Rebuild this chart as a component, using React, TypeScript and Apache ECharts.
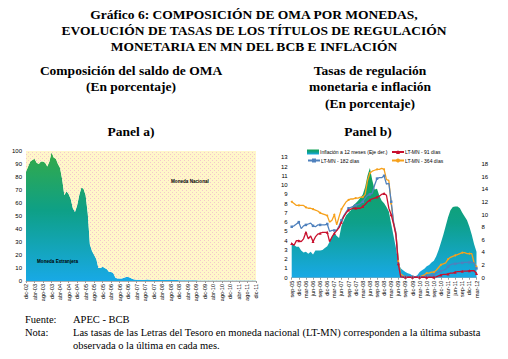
import React, { useEffect, useRef } from "react";
import * as echarts from "echarts";

const MONTHS = ["ene", "feb", "mar", "abr", "may", "jun", "jul", "ago", "sep", "oct", "nov", "dic"];
function monthLabels(year: number, month: number, count: number): string[] {
  const out: string[] = [];
  for (let i = 0; i < count; i++) {
    const m = (month + i) % 12;
    const y = year + Math.floor((month + i) / 12);
    out.push(MONTHS[m] + "-" + String(y % 100).padStart(2, "0"));
  }
  return out;
}

// Panel a) monthly, dic-02 .. dic-11
const catsA = monthLabels(2002, 11, 109);
const monedaExtranjera = [
  84, 88, 92, 93, 94, 91, 90, 92, 92, 91, 88, 92, 99,
  95, 94, 90, 87, 78, 66, 69, 67, 63, 56, 53, 58,
  66, 72, 71, 66, 52, 28, 23, 20, 17, 10, 10, 11,
  10, 9, 7, 7, 6, 2.5, 2, 2, 2, 2.5, 3, 3,
  2.5, 1.5, 1.2, 1, 1, 1, 0.8, 1, 1.2, 1, 0.8, 0.8,
  0.8, 0.7, 0.7, 0.7, 0.8, 0.8, 0.9, 1, 0.9, 0.8, 0.7, 0.6,
  0.6, 0.6, 0.5, 0.5, 0.5, 0.5, 0.5, 0.5, 0.4, 0.4, 0.4, 0.4,
  0.4, 0.4, 0.4, 0.4, 0.4, 0.3, 0.3, 0.3, 0.3, 0.3, 0.3, 0.3,
  0.3, 0.3, 0.3, 0.3, 0.3, 0.3, 0.3, 0.3, 0.3, 0.3, 0.3, 0.3,
];
const monedaNacional = monedaExtranjera.map((v) => +(100 - v).toFixed(2));

// Panel b) monthly, sep-05 .. mar-12
const catsB = monthLabels(2005, 8, 79);
const inflacion = [
  5.3, 5.2, 4.9, 4.9, 4.3, 4.0, 4.1, 3.8, 4.1, 3.7, 4.3, 4.3,
  4.3, 4.4, 4.7, 5.0, 5.7, 6.5, 7.1, 6.6, 6.3, 8.2, 9.1, 9.9,
  10.3, 10.7, 11.5, 11.8, 12.2, 12.7, 13.2, 14.4, 16.2, 17.4, 15.5, 14.0,
  14.1, 13.0, 12.2, 11.8, 11.2, 10.5, 8.5, 6.6, 4.7, 2.4, 1.5, 1.2,
  0.9, 0.7, 0.6, 0.3, 0.2, 0.4, 0.9, 1.2, 1.4, 1.8, 2.0, 2.4,
  2.7, 3.4, 4.4, 5.6, 6.8, 8.2, 9.6, 10.7, 11.2, 11.3, 11.3, 11.0,
  10.3, 9.7, 9.1, 8.1, 6.8, 5.3, 4.1,
];
const lt364 = [
  8.2, 8.0, 7.8, 7.8, 7.8, 7.8, 7.6, 7.5, 7.5, 7.4, 7.3, 7.2,
  7.0, 6.9, 6.8, 6.7, 6.0, 6.2, 6.8, 5.7, 6.6, 7.4, 7.8, 8.2,
  8.4, 8.5, 8.5, 8.6, 8.6, 8.7, 8.7, 9.0, 10.5, 11.3, 11.5, 11.6,
  11.7, 11.7, 11.8, 11.7, 10.6, 10.5, 8.0, 5.9, 4.8, 1.8, 0.4, 0.2,
  0.1, 0.1, 0.1, 0.1, 0.1, 0.1, 0.1, 0.2, 0.3, 0.5, 0.5, 0.6,
  0.6, 0.8, 1.1, 1.4, 1.5, 1.6, 2.0, 2.2, 2.3, 2.4, 2.5, 2.6,
  2.7, 2.7, 2.6, 2.6, 2.6, 1.6, 1.2,
];
const lt182 = [
  5.5, 5.6, 5.8, 6.0, 5.3, 5.6, 5.7, 5.8, 5.9, 5.6, 5.5, 5.7,
  5.7, 5.7, 5.7, 5.8, 5.0, 5.1, 5.1, 5.1, 5.6, 6.2, 6.7, 7.1,
  7.5, 7.6, 7.7, 7.8, 7.9, 8.0, 8.2, 8.6, 8.9, 9.0, 9.1, 10.0,
  10.7, 10.8, 10.8, 11.0, 10.1, 10.2, 8.2, 6.0, 4.8, 1.5, 0.2, 0.1,
  0.1, 0.1, 0.1, 0.1, 0.1, 0.1, 0.1, 0.1, 0.1, 0.2, 0.2, 0.3,
  0.3, 0.5, 0.6, 0.7, 0.8, 0.9, 1.2, 1.4, 1.5, 1.5, 1.55, 1.6,
  1.6, 1.65, 1.65, 1.65, 1.65, 1.6, 1.0,
];
const lt91 = [
  3.7, 3.5, 4.0, 4.0, 3.9, 4.2, 4.9, 4.2, 4.5, 3.9, 4.4, 4.7,
  4.8, 4.9, 4.9, 4.9, 3.9, 4.4, 4.8, 5.1, 5.4, 6.0, 6.6, 7.0,
  7.3, 7.4, 7.5, 7.5, 7.5, 7.5, 7.7, 7.9, 8.2, 8.4, 8.5, 8.6,
  8.7, 8.8, 9.0, 9.1, 8.9, 7.5, 6.8, 5.8, 4.6, 1.5, 0.1, 0.05,
  0.05, 0.05, 0.05, 0.05, 0.05, 0.05, 0.05, 0.05, 0.05, 0.05, 0.05, 0.05,
  0.05, 0.1, 0.2, 0.3, 0.35, 0.35, 0.4, 0.5, 0.5, 0.6, 0.65, 0.65,
  0.7, 0.7, 0.7, 0.75, 0.75, 0.75, 0.45,
];

const NAME_INF = "Inflación a 12 meses (Eje der.)";
const NAME_91 = "LT-MN - 91 días";
const NAME_182 = "LT-MN - 182 días";
const NAME_364 = "LT-MN - 364 días";

const SANS = "Liberation Sans";
const SERIF = "Liberation Serif";

function grad(stops: [number, string][]) {
  return new echarts.graphic.LinearGradient(0, 0, 0, 1, stops.map(([offset, color]) => ({ offset, color })));
}

function dotPattern(bg: string | null, dot: string) {
  const c = document.createElement("canvas");
  c.width = 4;
  c.height = 4;
  const ctx = c.getContext("2d");
  if (ctx) {
    if (bg) {
      ctx.fillStyle = bg;
      ctx.fillRect(0, 0, 4, 4);
    }
    ctx.fillStyle = dot;
    ctx.fillRect(0, 0, 1, 1);
    ctx.fillRect(2, 2, 1, 1);
  }
  return { image: c, repeat: "repeat" };
}

export default function App() {
  const ref = useRef<HTMLDivElement>(null);
  useEffect(() => {
    if (!ref.current) return;
    const chart = echarts.init(ref.current, null, { renderer: "svg" });
    const meGrad = grad([[0, "#34aa48"], [0.45, "#0ea086"], [1, "#18a9e6"]]);
    const infGrad = grad([[0, "#12a356"], [0.5, "#0ea08a"], [1, "#18a9e6"]]);
    const yellowDots = dotPattern("#fff7c9", "#f4c6cc");
    const axisLabel = { fontSize: 5.5, color: "#000", fontFamily: SANS };
    const titleFont = "bold 13.5px " + SERIF;
    const subFont = "bold 13.5px " + SERIF;
    const noteFont = "10.5px " + SERIF;
    const t = (text: string, x: number, y: number, font: string, align = "center") => ({
      type: "text",
      x,
      y,
      z: 100,
      silent: true,
      style: { text, font, textAlign: align, textVerticalAlign: "middle", fill: "#000" },
    });
    const legendBase = {
      itemWidth: 12,
      itemHeight: 5,
      itemGap: 2,
      textStyle: { fontSize: 5, color: "#000", fontFamily: SANS, padding: [0, 0, 0, -4] },
      padding: 0,
    };
    chart.setOption({
      animation: false,
      backgroundColor: "#fff",
      grid: [
        { left: 26, width: 230, top: 151, height: 130 },
        { left: 291.7, width: 184.8, top: 157.3, height: 120.4 },
      ],
      xAxis: [
        {
          type: "category",
          gridIndex: 0,
          data: catsA,
          boundaryGap: false,
          axisLine: { lineStyle: { color: "#999", width: 0.8 } },
          axisTick: { interval: 3, length: 2, lineStyle: { color: "#999" } },
          axisLabel: { ...axisLabel, interval: 3, rotate: 90, margin: 3 },
        },
        {
          type: "category",
          gridIndex: 1,
          data: catsB,
          boundaryGap: false,
          axisLine: { lineStyle: { color: "#999", width: 0.8 } },
          axisTick: { interval: 2, length: 2, lineStyle: { color: "#999" } },
          axisLabel: { ...axisLabel, interval: 2, rotate: 90, margin: 3 },
        },
      ],
      yAxis: [
        {
          type: "value",
          gridIndex: 0,
          min: 0,
          max: 100,
          interval: 10,
          splitLine: { show: false },
          axisLine: { show: false },
          axisTick: { show: false },
          axisLabel: { ...axisLabel, fontSize: 6, margin: 4 },
        },
        {
          type: "value",
          gridIndex: 1,
          min: 0,
          max: 13,
          interval: 1,
          splitLine: { show: false },
          axisLine: { show: false },
          axisTick: { show: false },
          axisLabel: { ...axisLabel, fontSize: 6, margin: 4 },
        },
        {
          type: "value",
          gridIndex: 1,
          position: "right",
          min: 0,
          max: 19.1,
          interval: 2,
          splitLine: { show: false },
          axisLine: { show: false },
          axisTick: { show: false },
          axisLabel: { ...axisLabel, fontSize: 6, margin: 5, showMaxLabel: false },
        },
      ],
      legend: [
        { ...legendBase, left: 307, top: 149.5, data: [{ name: NAME_INF, icon: "rect", itemStyle: { color: infGrad } }] },
        { ...legendBase, left: 391, top: 149.5, data: [NAME_91] },
        { ...legendBase, left: 307, top: 158, data: [NAME_182] },
        { ...legendBase, left: 391, top: 158, data: [NAME_364] },
      ],
      series: [
        {
          name: "Moneda Extranjera",
          type: "line",
          xAxisIndex: 0,
          yAxisIndex: 0,
          stack: "oma",
          data: monedaExtranjera,
          showSymbol: false,
          lineStyle: { width: 0 },
          areaStyle: { color: meGrad, opacity: 1 },
          itemStyle: { color: "#18a9e6" },
        },
        {
          name: "Moneda Nacional",
          type: "line",
          xAxisIndex: 0,
          yAxisIndex: 0,
          stack: "oma",
          data: monedaNacional,
          showSymbol: false,
          lineStyle: { width: 0 },
          areaStyle: { color: yellowDots, opacity: 1 },
          itemStyle: { color: "#fff7c9" },
        },
        {
          name: NAME_INF,
          type: "line",
          xAxisIndex: 1,
          yAxisIndex: 2,
          data: inflacion,
          showSymbol: false,
          lineStyle: { width: 0 },
          areaStyle: { color: infGrad, opacity: 1 },
          itemStyle: { color: "#12a356" },
        },
        {
          name: NAME_364,
          type: "line",
          xAxisIndex: 1,
          yAxisIndex: 1,
          data: lt364,
          symbol: "circle",
          symbolSize: 2,
          showSymbol: true,
          lineStyle: { width: 1.3, color: "#f6a11c" },
          itemStyle: { color: "#f6a11c" },
        },
        {
          name: NAME_182,
          type: "line",
          xAxisIndex: 1,
          yAxisIndex: 1,
          data: lt182,
          symbol: "rect",
          symbolSize: 2.5,
          showSymbol: true,
          lineStyle: { width: 1.3, color: "#4f81bd" },
          itemStyle: { color: "#4f81bd" },
        },
        {
          name: NAME_91,
          type: "line",
          xAxisIndex: 1,
          yAxisIndex: 1,
          data: lt91,
          symbol: "triangle",
          symbolSize: 3,
          showSymbol: true,
          lineStyle: { width: 1.3, color: "#c8102e" },
          itemStyle: { color: "#c8102e" },
        },
      ],
      graphic: [
        t("Gráfico 6: COMPOSICIÓN DE OMA POR MONEDAS,", 254, 14, titleFont),
        t("EVOLUCIÓN DE TASAS DE LOS TÍTULOS DE REGULACIÓN", 254, 30, titleFont),
        t("MONETARIA EN MN DEL BCB E INFLACIÓN", 254, 46, titleFont),
        t("Composición del saldo de OMA", 131, 70, subFont),
        t("(En porcentaje)", 131, 86, subFont),
        t("Tasas de regulación", 370, 70, subFont),
        t("monetaria e inflación", 370, 86, subFont),
        t("(En porcentaje)", 370, 103, subFont),
        t("Panel a)", 131, 131, subFont),
        t("Panel b)", 368, 131, subFont),
        t("Moneda Extranjera", 37, 261, "bold 4.6px " + SANS, "left"),
        t("Moneda Nacional", 171, 181.5, "bold 4.6px " + SANS, "left"),
        t("Fuente:", 25, 319, noteFont, "left"),
        t("APEC - BCB", 73, 319, noteFont, "left"),
        t("Nota:", 25, 332, noteFont, "left"),
        t("Las tasas de las Letras del Tesoro en moneda nacional (LT-MN) corresponden a la última subasta", 73, 332, noteFont, "left"),
        t("observada o la última en cada mes.", 73, 345, noteFont, "left"),
      ],
    });
    return () => chart.dispose();
  }, []);
  return <div ref={ref} style={{ position: "fixed", left: 0, top: 0, width: 508, height: 359 }} />;
}
